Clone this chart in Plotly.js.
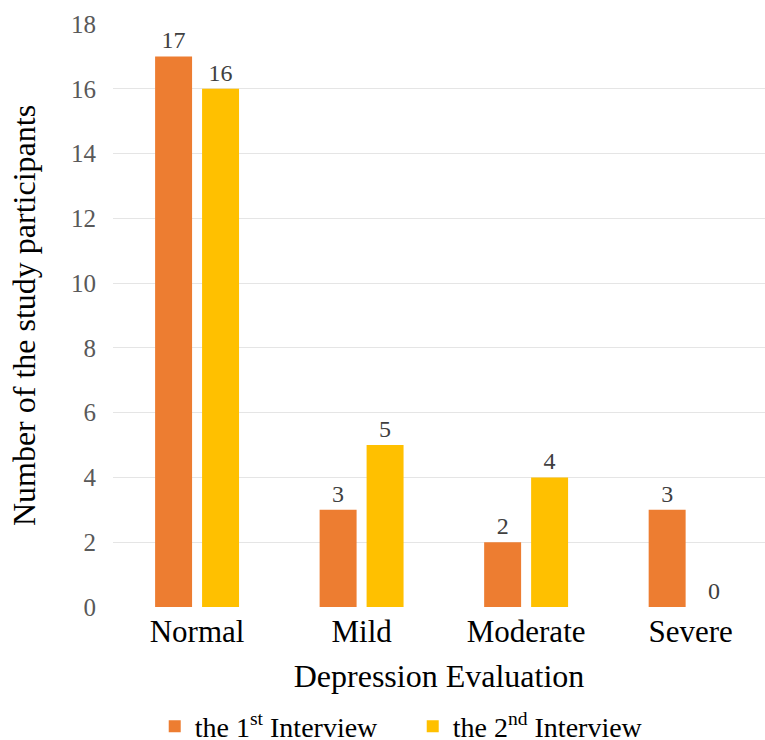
<!DOCTYPE html>
<html>
<head>
<meta charset="utf-8">
<script src="https://cdn.plot.ly/plotly-3.0.1.min.js"></script>
<style>
  html, body { margin: 0; padding: 0; background: #ffffff; }
  #chart { width: 765px; height: 740px; }
</style>
</head>
<body>
<div id="chart"></div>
<script>
// Depression evaluation categories and participant counts per interview
const categories = ["Normal", "Mild", "Moderate", "Severe"];
const firstInterview = [17, 3, 2, 3];
const secondInterview = [16, 5, 4, 0];
const seriesNames = ["the 1<sup>st</sup> Interview", "the 2<sup>nd</sup> Interview"];
const yTicks = [0, 2, 4, 6, 8, 10, 12, 14, 16, 18];

const serif = "'Liberation Serif', 'Times New Roman', serif";

function barTrace(name, values, color) {
  return {
    type: "bar",
    name: name,
    x: categories,
    y: values,
    text: values.map(String),
    textposition: "outside",
    cliponaxis: false,
    textfont: { family: serif, size: 24, color: "#404040" },
    marker: { color: color }
  };
}

const traces = [
  barTrace(seriesNames[0], firstInterview, "#ED7D31"),
  barTrace(seriesNames[1], secondInterview, "#FFC000")
];

const layout = {
  width: 765,
  height: 740,
  margin: { l: 113, r: 0, t: 24, b: 133, autoexpand: false },
  paper_bgcolor: "#ffffff",
  plot_bgcolor: "#ffffff",
  font: { family: serif, color: "#000000" },
  barmode: "group",
  bargap: 0.429,
  bargroupgap: 0.213,
  showlegend: true,
  legend: {
    orientation: "h",
    x: 0.064,
    xanchor: "left",
    y: -0.205,
    yanchor: "middle",
    font: { family: serif, size: 28, color: "#000000" },
    itemwidth: 30,
    entrywidth: 213,
    entrywidthmode: "pixels",
    tracegroupgap: 0
  },
  xaxis: {
    type: "category",
    range: [-0.511, 3.452],
    automargin: false,
    tickfont: { family: serif, size: 31, color: "#000000" },
    ticklabelstandoff: 3,
    ticks: "",
    showline: false,
    showgrid: false,
    title: {
      text: "Depression Evaluation",
      font: { family: serif, size: 32, color: "#000000" },
      standoff: 16
    }
  },
  yaxis: {
    range: [0, 18],
    automargin: false,
    tickvals: yTicks,
    ticktext: yTicks.map(String),
    tickfont: { family: serif, size: 25, color: "#595959" },
    ticklabelstandoff: 16,
    ticks: "",
    showline: false,
    showgrid: true,
    gridcolor: "#e5e5e5",
    gridwidth: 1,
    zeroline: false,
    title: {
      text: "Number of the study participants",
      font: { family: serif, size: 32, color: "#000000" },
      standoff: 25
    }
  }
};

Plotly.newPlot("chart", traces, layout, { displayModeBar: false, staticPlot: true });
</script>
</body>
</html>
